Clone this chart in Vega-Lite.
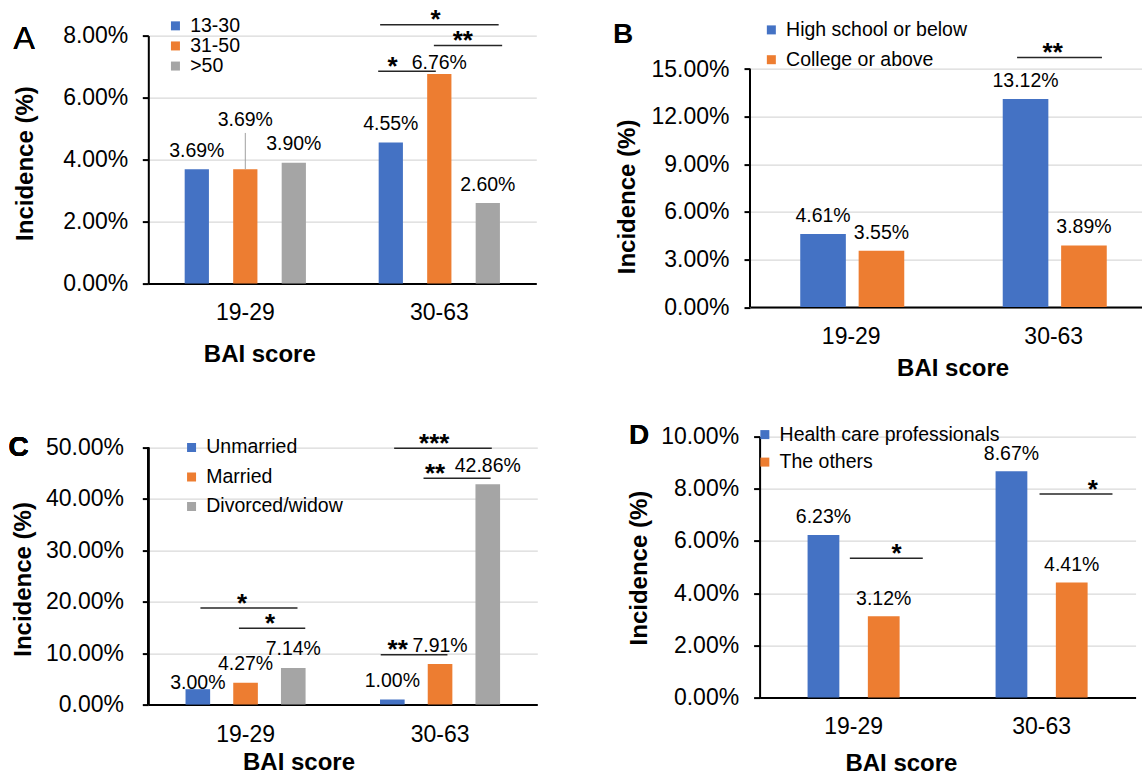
{
  "$schema": "https://vega.github.io/schema/vega-lite/v6.json",
  "padding": {"left": 8.3, "top": 6.6, "right": 0, "bottom": 0},
  "config": {
    "view": {"stroke": null},
    "font": "Liberation Sans",
    "text": {"font": "Liberation Sans", "color": "#000"},
    "axisX": {"domainColor": "#000", "domainWidth": 2, "ticks": false, "tickSize": 0, "grid": false, "labelPadding": 18.4, "labelFontSize": 23, "labelAngle": 0, "labelColor": "#000", "labelFont": "Liberation Sans", "titleFont": "Liberation Sans", "titleFontSize": 24, "titleFontWeight": "bold", "titleColor": "#000", "titleAlign": "center", "titleBaseline": "middle", "zindex": 1},
    "axisY": {"domainColor": "#000", "domainWidth": 2, "tickColor": "#000", "tickWidth": 2, "tickSize": 6, "labelFontSize": 23, "labelPadding": 15, "labelColor": "#000", "labelFont": "Liberation Sans", "grid": true, "gridColor": "#D9D9D9", "gridWidth": 1.3, "titleFont": "Liberation Sans", "titleFontSize": 24, "titleFontWeight": "bold", "titleColor": "#000", "titleAlign": "center", "titleBaseline": "middle"},
    "legend": {"orient": "none", "symbolType": "square", "symbolSize": 81, "symbolStrokeWidth": 0, "symbolOpacity": 1, "labelFontSize": 19.5, "labelFont": "Liberation Sans", "labelColor": "#000", "labelOffset": 5, "labelLimit": 500, "padding": 0}
  },
  "datasets": {
    "A": [
      {"cat": "19-29", "g": "13-30", "v": 0.0369},
      {"cat": "19-29", "g": "31-50", "v": 0.0369},
      {"cat": "19-29", "g": ">50", "v": 0.0390},
      {"cat": "30-63", "g": "13-30", "v": 0.0455},
      {"cat": "30-63", "g": "31-50", "v": 0.0676},
      {"cat": "30-63", "g": ">50", "v": 0.0260}
    ],
    "As": [
      {"x1": 1.195, "x2": 1.806, "y": 0.0835, "sx": 1.481, "s": "*"},
      {"x1": 1.472, "x2": 1.824, "y": 0.0768, "sx": 1.621, "s": "**"},
      {"x1": 1.185, "x2": 1.482, "y": 0.0685, "sx": 1.259, "s": "*"}
    ],
    "B": [
      {"cat": "19-29", "g": "High school or below", "v": 0.0461},
      {"cat": "19-29", "g": "College or above", "v": 0.0355},
      {"cat": "30-63", "g": "High school or below", "v": 0.1312},
      {"cat": "30-63", "g": "College or above", "v": 0.0389}
    ],
    "Bs": [
      {"x1": 1.319, "x2": 1.738, "y": 0.1573, "sx": 1.495, "s": "**"}
    ],
    "C": [
      {"cat": "19-29", "g": "Unmarried", "v": 0.0300},
      {"cat": "19-29", "g": "Married", "v": 0.0427},
      {"cat": "19-29", "g": "Divorced/widow", "v": 0.0714},
      {"cat": "30-63", "g": "Unmarried", "v": 0.0100},
      {"cat": "30-63", "g": "Married", "v": 0.0791},
      {"cat": "30-63", "g": "Divorced/widow", "v": 0.4286}
    ],
    "Cs": [
      {"x1": 1.264, "x2": 1.766, "y": 0.4988, "sx": 1.470, "s": "***"},
      {"x1": 1.415, "x2": 1.760, "y": 0.4405, "sx": 1.474, "s": "**"},
      {"x1": 1.195, "x2": 1.538, "y": 0.0972, "sx": 1.282, "s": "**"},
      {"x1": 0.268, "x2": 0.767, "y": 0.1879, "sx": 0.482, "s": "*"},
      {"x1": 0.466, "x2": 0.807, "y": 0.1483, "sx": 0.626, "s": "*"}
    ],
    "D": [
      {"cat": "19-29", "g": "Health care professionals", "v": 0.0623},
      {"cat": "19-29", "g": "The others", "v": 0.0312},
      {"cat": "30-63", "g": "Health care professionals", "v": 0.0867},
      {"cat": "30-63", "g": "The others", "v": 0.0441}
    ],
    "Ds": [
      {"x1": 0.480, "x2": 0.868, "y": 0.0534, "sx": 0.728, "s": "*"},
      {"x1": 1.489, "x2": 1.877, "y": 0.0780, "sx": 1.773, "s": "*"}
    ]
  },
  "resolve": {"scale": {"color": "independent", "xOffset": "independent"}, "legend": {"color": "independent"}},
  "spacing": 41,
  "vconcat": [
    {
      "spacing": 75.7,
      "resolve": {"scale": {"color": "independent", "xOffset": "independent"}, "legend": {"color": "independent"}},
      "hconcat": [
        {
          "width": 388, "height": 248,
          "resolve": {"scale": {"x": "independent"}},
          "layer": [
            {
              "data": {"name": "A"},
              "layer": [
                {
                  "mark": {"type": "bar"},
                  "encoding": {
                    "x": {"field": "cat", "type": "nominal", "scale": {"paddingInner": 0, "paddingOuter": 0}, "axis": {"title": "BAI score", "titleX": 111, "titleY": 71.4}},
                    "xOffset": {"field": "g", "type": "nominal", "scale": {"domain": ["13-30", "31-50", ">50"], "range": [0, 194], "paddingInner": 0.5, "paddingOuter": 0.75}},
                    "y": {"field": "v", "type": "quantitative", "title": "Incidence (%)", "scale": {"domain": [0, 0.08], "nice": false}, "axis": {"values": [0, 0.02, 0.04, 0.06, 0.08], "format": ".2%", "labelPadding": 14.5, "titleX": -123, "titleY": 127.5}},
                    "color": {"field": "g", "type": "nominal", "scale": {"domain": ["13-30", "31-50", ">50"], "range": ["#4472C4", "#ED7D31", "#A5A5A5"]}, "legend": {"title": null, "legendX": 17.4, "legendY": -19.5, "rowPadding": -0.9}}
                  }
                },
                {
                  "transform": [{"filter": "datum.g != '31-50'"}],
                  "mark": {"type": "text", "baseline": "middle", "fontSize": 19.5, "dy": -18.4},
                  "encoding": {
                    "x": {"field": "cat", "type": "nominal"},
                    "xOffset": {"field": "g", "type": "nominal"},
                    "y": {"field": "v", "type": "quantitative", "title": "Incidence (%)"},
                    "text": {"field": "v", "type": "quantitative", "format": ".2%"}
                  }
                },
                {
                  "transform": [{"filter": "datum.g == '31-50' && datum.cat == '19-29'"}],
                  "mark": {"type": "text", "baseline": "middle", "fontSize": 19.5, "dy": -48.9},
                  "encoding": {
                    "x": {"field": "cat", "type": "nominal"},
                    "xOffset": {"field": "g", "type": "nominal"},
                    "y": {"field": "v", "type": "quantitative", "title": "Incidence (%)"},
                    "text": {"field": "v", "type": "quantitative", "format": ".2%"}
                  }
                },
                {
                  "transform": [{"filter": "datum.g == '31-50' && datum.cat == '30-63'"}],
                  "mark": {"type": "text", "baseline": "middle", "fontSize": 19.5, "dy": -10.9},
                  "encoding": {
                    "x": {"field": "cat", "type": "nominal"},
                    "xOffset": {"field": "g", "type": "nominal"},
                    "y": {"field": "v", "type": "quantitative", "title": "Incidence (%)"},
                    "text": {"field": "v", "type": "quantitative", "format": ".2%"}
                  }
                },
                {
                  "transform": [{"filter": "datum.g == '31-50' && datum.cat == '19-29'"}],
                  "mark": {"type": "rule", "color": "#A0A0A0", "strokeWidth": 1},
                  "encoding": {
                    "x": {"field": "cat", "type": "nominal"},
                    "xOffset": {"field": "g", "type": "nominal"},
                    "y": {"field": "v", "type": "quantitative", "title": "Incidence (%)"},
                    "y2": {"datum": 0.0486}
                  }
                }
              ]
            },
            {
              "data": {"name": "As"},
              "layer": [
                {
                  "mark": {"type": "rule", "color": "#262626", "strokeWidth": 1.5},
                  "encoding": {
                    "x": {"field": "x1", "type": "quantitative", "scale": {"domain": [0, 2], "nice": false, "zero": false}, "axis": null},
                    "x2": {"field": "x2"},
                    "y": {"field": "y", "type": "quantitative", "title": "Incidence (%)"}
                  }
                },
                {
                  "mark": {"type": "text", "baseline": "alphabetic", "fontSize": 26, "fontWeight": "bold", "dy": 3.5},
                  "encoding": {
                    "x": {"field": "sx", "type": "quantitative", "scale": {"domain": [0, 2], "nice": false, "zero": false}, "axis": null},
                    "y": {"field": "y", "type": "quantitative", "title": "Incidence (%)"},
                    "text": {"field": "s", "type": "nominal"}
                  }
                },
                {
                  "mark": {"type": "text", "text": "A", "align": "left", "baseline": "alphabetic", "fontSize": 32},
                  "encoding": {
                    "x": {"datum": -0.6943, "type": "quantitative"},
                    "y": {"datum": 0.0757, "type": "quantitative"}
                  }
                }
              ]
            }
          ]
        },
        {
          "width": 405, "height": 271.5,
          "resolve": {"scale": {"x": "independent"}},
          "layer": [
            {
              "data": {"name": "B"},
              "layer": [
                {
                  "mark": {"type": "bar"},
                  "encoding": {
                    "x": {"field": "cat", "type": "nominal", "scale": {"paddingInner": 0, "paddingOuter": 0}, "axis": {"title": "BAI score", "titleX": 202.6, "titleY": 61.4}},
                    "xOffset": {"field": "g", "type": "nominal", "scale": {"domain": ["High school or below", "College or above"], "range": [1, 203.5], "paddingInner": 0.219, "paddingOuter": 0.843}},
                    "y": {"field": "v", "type": "quantitative", "title": "Incidence (%)", "scale": {"domain": [0, 0.17111], "nice": false}, "axis": {"values": [0, 0.03, 0.06, 0.09, 0.12, 0.15], "format": ".2%", "domain": false, "labelPadding": 15, "titleX": -122, "titleY": 160.8}},
                    "color": {"field": "g", "type": "nominal", "scale": {"domain": ["High school or below", "College or above"], "range": ["#4472C4", "#ED7D31"]}, "legend": {"title": null, "legendX": 11.6, "legendY": -15.45, "rowPadding": 8.8}}
                  }
                },
                {
                  "mark": {"type": "text", "baseline": "middle", "fontSize": 19.5, "dy": -17.9},
                  "encoding": {
                    "x": {"field": "cat", "type": "nominal"},
                    "xOffset": {"field": "g", "type": "nominal"},
                    "y": {"field": "v", "type": "quantitative", "title": "Incidence (%)"},
                    "text": {"field": "v", "type": "quantitative", "format": ".2%"}
                  }
                }
              ]
            },
            {
              "data": {"name": "Bs"},
              "layer": [
                {
                  "mark": {"type": "rule", "color": "#000", "strokeWidth": 2},
                  "encoding": {
                    "x": {"datum": 0, "type": "quantitative", "scale": {"domain": [0, 2], "nice": false, "zero": false}, "axis": null},
                    "y": {"datum": 0, "type": "quantitative", "title": "Incidence (%)"},
                    "y2": {"datum": 0.15}
                  }
                },
                {
                  "mark": {"type": "rule", "color": "#262626", "strokeWidth": 1.5},
                  "encoding": {
                    "x": {"field": "x1", "type": "quantitative"},
                    "x2": {"field": "x2"},
                    "y": {"field": "y", "type": "quantitative", "title": "Incidence (%)"}
                  }
                },
                {
                  "mark": {"type": "text", "baseline": "alphabetic", "fontSize": 26, "fontWeight": "bold", "dy": 3.5},
                  "encoding": {
                    "x": {"field": "sx", "type": "quantitative"},
                    "y": {"field": "y", "type": "quantitative", "title": "Incidence (%)"},
                    "text": {"field": "s", "type": "nominal"}
                  }
                },
                {
                  "mark": {"type": "text", "text": "B", "align": "left", "baseline": "alphabetic", "fontSize": 28, "fontWeight": "bold"},
                  "encoding": {
                    "x": {"datum": -0.677, "type": "quantitative"},
                    "y": {"datum": 0.16676, "type": "quantitative"}
                  }
                }
              ]
            }
          ]
        }
      ]
    },
    {
      "spacing": 90.3,
      "resolve": {"scale": {"color": "independent", "xOffset": "independent"}, "legend": {"color": "independent"}},
      "hconcat": [
        {
          "width": 389, "height": 268,
          "resolve": {"scale": {"x": "independent"}},
          "layer": [
            {
              "data": {"name": "C"},
              "layer": [
                {
                  "mark": {"type": "bar"},
                  "encoding": {
                    "x": {"field": "cat", "type": "nominal", "scale": {"paddingInner": 0, "paddingOuter": 0}, "axis": {"title": "BAI score", "titleX": 150.2, "titleY": 58.2, "labelPadding": 19.4}},
                    "xOffset": {"field": "g", "type": "nominal", "scale": {"domain": ["Unmarried", "Married", "Divorced/widow"], "range": [0, 194.5], "paddingInner": 0.484, "paddingOuter": 0.78}},
                    "y": {"field": "v", "type": "quantitative", "title": "Incidence (%)", "scale": {"domain": [0, 0.5214], "nice": false}, "axis": {"values": [0, 0.1, 0.2, 0.3, 0.4, 0.5], "format": ".2%", "domain": false, "labelPadding": 18.8, "titleX": -124.8, "titleY": 142.3}},
                    "color": {"field": "g", "type": "nominal", "scale": {"domain": ["Unmarried", "Married", "Divorced/widow"], "range": ["#4472C4", "#ED7D31", "#A5A5A5"]}, "legend": {"title": null, "legendX": 33.5, "legendY": 1.15, "rowPadding": 8.5}}
                  }
                },
                {
                  "transform": [{"filter": "!(datum.g == 'Unmarried' && datum.cat == '19-29')"}],
                  "mark": {"type": "text", "baseline": "middle", "fontSize": 19.5, "dy": -18.4},
                  "encoding": {
                    "x": {"field": "cat", "type": "nominal"},
                    "xOffset": {"field": "g", "type": "nominal"},
                    "y": {"field": "v", "type": "quantitative", "title": "Incidence (%)"},
                    "text": {"field": "v", "type": "quantitative", "format": ".2%"}
                  }
                },
                {
                  "transform": [{"filter": "datum.g == 'Unmarried' && datum.cat == '19-29'"}],
                  "mark": {"type": "text", "baseline": "middle", "fontSize": 19.5, "dy": -5.9},
                  "encoding": {
                    "x": {"field": "cat", "type": "nominal"},
                    "xOffset": {"field": "g", "type": "nominal"},
                    "y": {"field": "v", "type": "quantitative", "title": "Incidence (%)"},
                    "text": {"field": "v", "type": "quantitative", "format": ".2%"}
                  }
                }
              ]
            },
            {
              "data": {"name": "Cs"},
              "layer": [
                {
                  "mark": {"type": "rule", "color": "#000", "strokeWidth": 2},
                  "encoding": {
                    "x": {"datum": 0, "type": "quantitative", "scale": {"domain": [0, 2], "nice": false, "zero": false}, "axis": null},
                    "y": {"datum": 0, "type": "quantitative", "title": "Incidence (%)"},
                    "y2": {"datum": 0.5}
                  }
                },
                {
                  "mark": {"type": "rule", "color": "#262626", "strokeWidth": 1.5},
                  "encoding": {
                    "x": {"field": "x1", "type": "quantitative"},
                    "x2": {"field": "x2"},
                    "y": {"field": "y", "type": "quantitative", "title": "Incidence (%)"}
                  }
                },
                {
                  "mark": {"type": "text", "baseline": "alphabetic", "fontSize": 26, "fontWeight": "bold", "dy": 3.5},
                  "encoding": {
                    "x": {"field": "sx", "type": "quantitative"},
                    "y": {"field": "y", "type": "quantitative", "title": "Incidence (%)"},
                    "text": {"field": "s", "type": "nominal"}
                  }
                },
                {
                  "mark": {"type": "text", "text": "C", "align": "left", "baseline": "alphabetic", "fontSize": 28, "fontWeight": "bold"},
                  "encoding": {
                    "x": {"datum": -0.7183, "type": "quantitative"},
                    "y": {"datum": 0.48385, "type": "quantitative"}
                  }
                }
              ]
            }
          ]
        },
        {
          "width": 376, "height": 261,
          "resolve": {"scale": {"x": "independent"}},
          "layer": [
            {
              "data": {"name": "D"},
              "layer": [
                {
                  "mark": {"type": "bar"},
                  "encoding": {
                    "x": {"field": "cat", "type": "nominal", "scale": {"paddingInner": 0, "paddingOuter": 0}, "axis": {"title": "BAI score", "titleX": 141.3, "titleY": 65.5}},
                    "xOffset": {"field": "g", "type": "nominal", "scale": {"domain": ["Health care professionals", "The others"], "range": [0, 188], "paddingInner": 0.473, "paddingOuter": 0.796}},
                    "y": {"field": "v", "type": "quantitative", "title": "Incidence (%)", "scale": {"domain": [0, 0.1], "nice": false}, "axis": {"values": [0, 0.02, 0.04, 0.06, 0.08, 0.1], "format": ".2%", "labelPadding": 15, "titleX": -119.7, "titleY": 131}},
                    "color": {"field": "g", "type": "nominal", "scale": {"domain": ["Health care professionals", "The others"], "range": ["#4472C4", "#ED7D31"]}, "legend": {"title": null, "legendX": -4.5, "legendY": -11.75, "rowPadding": 6.5}}
                  }
                },
                {
                  "mark": {"type": "text", "baseline": "middle", "fontSize": 19.5, "dy": -17.6},
                  "encoding": {
                    "x": {"field": "cat", "type": "nominal"},
                    "xOffset": {"field": "g", "type": "nominal"},
                    "y": {"field": "v", "type": "quantitative", "title": "Incidence (%)"},
                    "text": {"field": "v", "type": "quantitative", "format": ".2%"}
                  }
                }
              ]
            },
            {
              "data": {"name": "Ds"},
              "layer": [
                {
                  "mark": {"type": "rule", "color": "#262626", "strokeWidth": 1.5},
                  "encoding": {
                    "x": {"field": "x1", "type": "quantitative", "scale": {"domain": [0, 2], "nice": false, "zero": false}, "axis": null},
                    "x2": {"field": "x2"},
                    "y": {"field": "y", "type": "quantitative", "title": "Incidence (%)"}
                  }
                },
                {
                  "mark": {"type": "text", "baseline": "alphabetic", "fontSize": 26, "fontWeight": "bold", "dy": 3.5},
                  "encoding": {
                    "x": {"field": "sx", "type": "quantitative", "scale": {"domain": [0, 2], "nice": false, "zero": false}, "axis": null},
                    "y": {"field": "y", "type": "quantitative", "title": "Incidence (%)"},
                    "text": {"field": "s", "type": "nominal"}
                  }
                },
                {
                  "mark": {"type": "text", "text": "D", "align": "left", "baseline": "alphabetic", "fontSize": 28, "fontWeight": "bold"},
                  "encoding": {
                    "x": {"datum": -0.695, "type": "quantitative"},
                    "y": {"datum": 0.09709, "type": "quantitative"}
                  }
                }
              ]
            }
          ]
        }
      ]
    }
  ]
}
